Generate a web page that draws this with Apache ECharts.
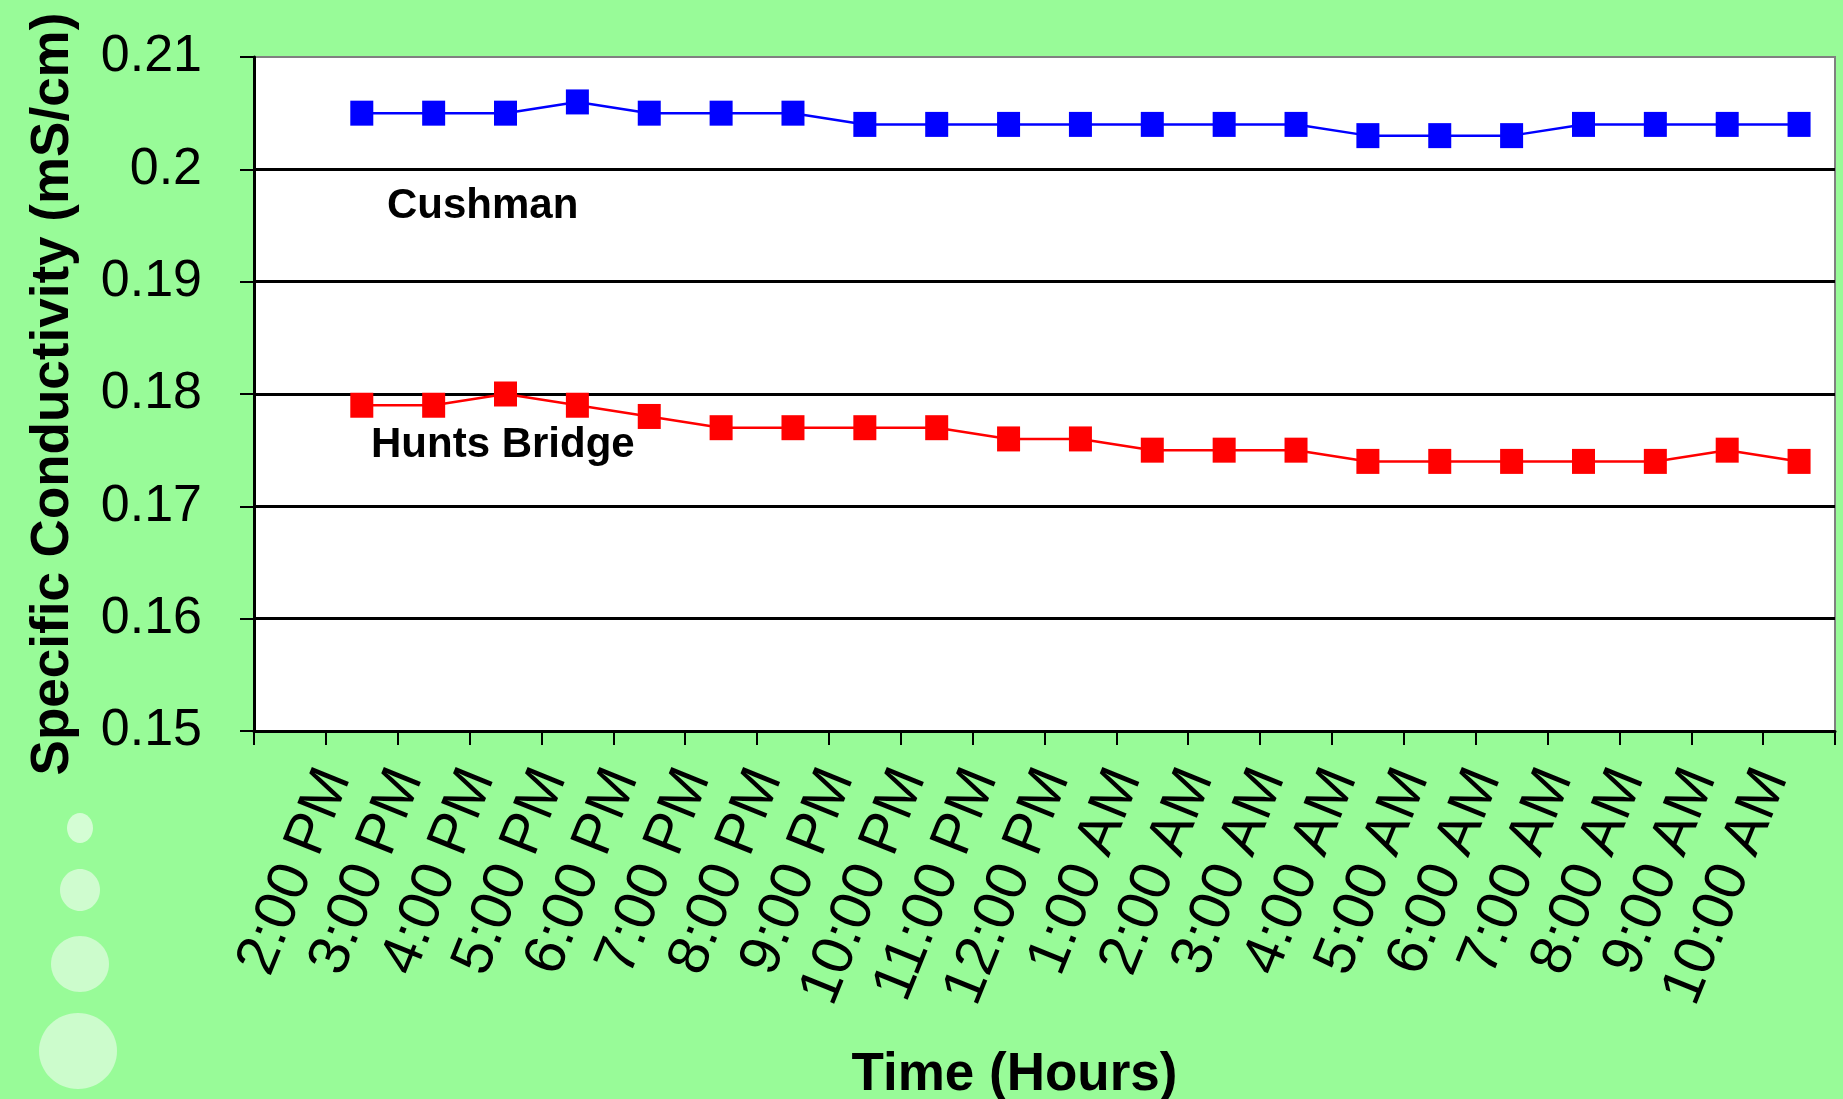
<!DOCTYPE html>
<html><head><meta charset="utf-8">
<style>html,body{margin:0;padding:0;background:#98fb98;}#c{width:1843px;height:1099px;}</style>
<script src="https://cdn.jsdelivr.net/npm/echarts@6/dist/echarts.min.js"></script>
</head><body><div id="c"></div>
<script>
const timeLabels = ['', '2:00 PM','3:00 PM','4:00 PM','5:00 PM','6:00 PM','7:00 PM','8:00 PM','9:00 PM','10:00 PM','11:00 PM','12:00 PM','1:00 AM','2:00 AM','3:00 AM','4:00 AM','5:00 AM','6:00 AM','7:00 AM','8:00 AM','9:00 AM','10:00 AM'];
const cushman = [null, 0.205,0.205,0.205,0.206,0.205,0.205,0.205,0.204,0.204,0.204,0.204,0.204,0.204,0.204,0.203,0.203,0.203,0.204,0.204,0.204,0.204];
const huntsBridge = [null, 0.179,0.179,0.180,0.179,0.178,0.177,0.177,0.177,0.177,0.176,0.176,0.175,0.175,0.175,0.174,0.174,0.174,0.174,0.174,0.175,0.174];
const yTicks = {min:0.15, max:0.21, step:0.01};

const chart = echarts.init(document.getElementById('c'), null, {renderer:'canvas'});
const FF = '"Liberation Sans", Arial, sans-serif';
chart.setOption({
  backgroundColor:'#98fb98',
  animation:false,
  textStyle:{fontFamily:FF},
  grid:{left:254, right:8, top:57, bottom:368, containLabel:false, outerBoundsMode:'none',
        show:true, backgroundColor:'#ffffff', borderColor:'#808080', borderWidth:2},
  xAxis:{
    type:'category', data:timeLabels, boundaryGap:true,
    axisLine:{lineStyle:{color:'#000', width:3}},
    axisTick:{show:true, interval:0, length:14, lineStyle:{color:'#000', width:2}},
    axisLabel:{interval:0, rotate:68, margin:51, fontSize:58, lineHeight:56, verticalAlign:'bottom', color:'#000', fontFamily:FF},
    name:'Time (Hours)', nameLocation:'middle', nameGap:318,
    nameTextStyle:{fontSize:53, fontWeight:'bold', color:'#000', fontFamily:FF, padding:[0,60,0,0]}
  },
  yAxis:{
    type:'value', min:yTicks.min, max:yTicks.max, interval:yTicks.step,
    axisLine:{show:true, lineStyle:{color:'#000', width:3}},
    axisTick:{show:true, length:14, lineStyle:{color:'#000', width:2}},
    axisLabel:{margin:52, fontSize:52, color:'#000', fontFamily:FF, formatter:v=>String(+v.toFixed(3))},
    splitLine:{show:true, showMaxLine:false, lineStyle:{color:'#000', width:3}},
    name:'Specific Conductivity (mS/cm)', nameLocation:'middle', nameGap:174,
    nameTextStyle:{fontSize:53, fontWeight:'bold', color:'#000', fontFamily:FF}
  },
  series:[
    {name:'Cushman', type:'line', data:cushman, symbol:'rect', symbolSize:[23,25], showAllSymbol:true,
     itemStyle:{color:'#0000ff'}, lineStyle:{color:'#0000ff', width:2.5}},
    {name:'Hunts Bridge', type:'line', data:huntsBridge, symbol:'rect', symbolSize:[23,25], showAllSymbol:true,
     itemStyle:{color:'#ff0000'}, lineStyle:{color:'#ff0000', width:2.5}}
  ],
  graphic:[
    {type:'text', left:387, top:185, style:{text:'Cushman', font:'bold 42px '+FF, fill:'#000'}},
    {type:'text', left:371, top:424, style:{text:'Hunts Bridge', font:'bold 42px '+FF, fill:'#000'}},
    {type:'ellipse', shape:{cx:80, cy:828, rx:13, ry:15}, style:{fill:'#d4fdd4'}},
    {type:'ellipse', shape:{cx:80, cy:890, rx:20, ry:21}, style:{fill:'#cffccf'}},
    {type:'ellipse', shape:{cx:80, cy:964, rx:29, ry:28}, style:{fill:'#ccfccc'}},
    {type:'ellipse', shape:{cx:78, cy:1051, rx:39, ry:38}, style:{fill:'#ccfccc'}}
  ]
});
</script></body></html>
